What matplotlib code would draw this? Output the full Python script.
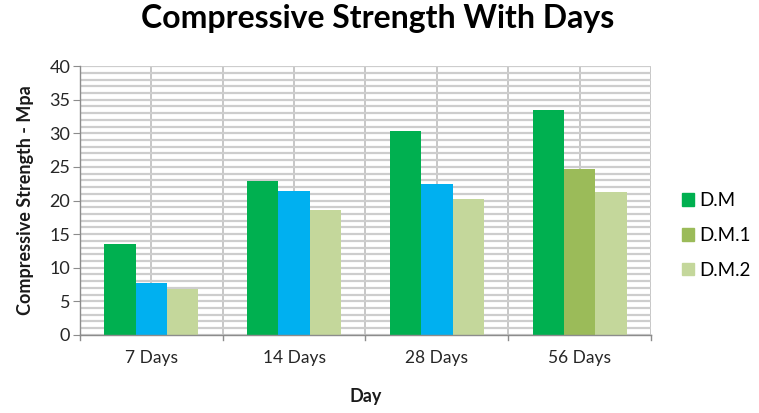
import matplotlib.pyplot as plt
import numpy as np

days = ['7 Days', '14 Days', '28 Days', '56 Days']
dm = [13.6, 22.9, 30.4, 33.5]
dm1 = [7.7, 21.4, 22.4, 24.7]
dm2 = [6.8, 18.6, 20.2, 21.2]
series_names = ['D.M', 'D.M.1', 'D.M.2']

c_dm = '#00B050'
c_dm1 = '#9BBB59'
c_dm1_bars = ['#00B0F0', '#00B0F0', '#00B0F0', '#9BBB59']
c_dm2 = '#C4D79B'

plt.rcParams['font.family'] = ['Lato', 'DejaVu Sans']

fig = plt.figure(figsize=(7.59, 4.13), dpi=100)
ax = fig.add_axes([0.1054, 0.189, 0.7523, 0.651])

x = np.arange(len(days))
w = 0.22
ax.bar(x - w, dm, w, color=c_dm, zorder=3, label=series_names[0])
ax.bar(x, dm1, w, color=c_dm1_bars, zorder=3)
ax.bar(x + w, dm2, w, color=c_dm2, zorder=3, label=series_names[2])

ax.set_xlim(-0.5, 3.5)
ax.set_ylim(0, 40)
ax.set_yticks(np.arange(0, 41, 5))
ax.set_yticks(np.arange(0, 40.01, 1), minor=True)
ax.set_xticks(x)
ax.set_xticklabels(days)

# horizontal grid (major + minor) and vertical lines every half category
ax.grid(axis='y', which='both', color='#CDCDCD', lw=1.6, zorder=0)
for xv in np.arange(-0.5, 3.51, 0.5):
    ax.axvline(xv, color='#BEBEBE', lw=1.2, zorder=0)

for s in ['top', 'right']:
    ax.spines[s].set_visible(False)
for s in ['left', 'bottom']:
    ax.spines[s].set_color('#8C8C8C')
    ax.spines[s].set_linewidth(1.0)
    ax.spines[s].set_zorder(4)

ax.tick_params(axis='y', which='major', length=5, color='#8C8C8C',
               labelsize=13, labelcolor='#262626', pad=2)
ax.tick_params(axis='y', which='minor', length=0)
ax.tick_params(axis='x', which='major', length=0, labelsize=12.5,
               labelcolor='#262626', pad=11)
# category boundary ticks on x axis
for xb in np.arange(-0.5, 3.51, 1.0):
    ax.plot([xb, xb], [0, -0.02], transform=ax.get_xaxis_transform(),
            color='#8C8C8C', lw=1.0, clip_on=False, zorder=4)

ax.set_ylabel('Compressive Strength - Mpa', fontsize=13, fontweight='bold',
              color='#1a1a1a', labelpad=11)
ax.set_xlabel('Day', fontsize=13, fontweight='bold', color='#1a1a1a', labelpad=16)
fig.suptitle('Compressive Strength With Days', fontsize=23, fontweight='bold',
             x=0.497, y=0.99)

handles = [plt.Rectangle((0, 0), 1, 1, color=c) for c in (c_dm, c_dm1, c_dm2)]
fig.legend(handles, series_names, loc='center left', bbox_to_anchor=(0.876, 0.43),
           frameon=False, fontsize=13.5, handlelength=0.65, handleheight=0.65,
           handletextpad=0.3, labelspacing=0.95)

fig.savefig('out.png', dpi=100)
